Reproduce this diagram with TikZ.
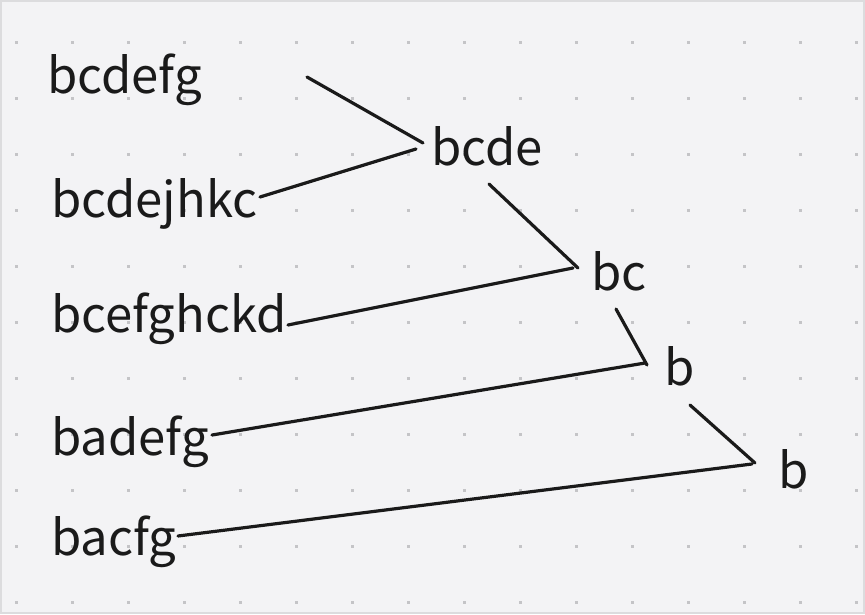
\documentclass[tikz,border=0pt]{standalone}
\usepackage{fontspec}
\setmainfont{Noto Sans CJK SC}
\definecolor{bgc}{HTML}{F3F3F5}
\definecolor{bordc}{HTML}{DCDCDE}
\definecolor{dotc}{HTML}{C4C4C7}
\definecolor{inkc}{HTML}{1A1A1A}
\tikzset{
  lbl/.style={anchor=base west, inner sep=0pt, text=inkc, font=\fontsize{49}{58}\selectfont},
  conn/.style={draw=inkc, line width=3.2pt, line cap=round},
}
\begin{document}
\begin{tikzpicture}[x=1pt,y=-1pt]
\useasboundingbox (0,0) rectangle (865,614);
\fill[bgc] (0,0) rectangle (865,614);
\draw[bordc, line width=2pt] (1,1) rectangle (864,613);
\foreach \i in {0,...,15} {
  \foreach \j in {0,...,10} {
    \fill[dotc] ({16+56*\i-1.5},{42+56*\j-1.5}) rectangle ++(3,3);
  }
}
% labels
\node[lbl] (t1) at (47,93) {bcdefg};
\node[lbl] (t2) at (51,217) {bcdejhkc};
\node[lbl] (t3) at (51,332) {bcefghckd};
\node[lbl] (t4) at (51,455) {badefg};
\node[lbl] (t5) at (51,555) {bacfg};
\node[lbl] (m1) at (431,165) {bcde};
\node[lbl] (m2) at (591,290) {bc};
\node[lbl] (m3) at (664,385) {b};
\node[lbl] (m4) at (778,488) {b};
% connector end points
\coordinate (a1) at (307,77);
\coordinate (j1) at (423,143);
\coordinate (a2) at (260,197);
\coordinate (k1) at (416,149);
\coordinate (a3) at (489,184);
\coordinate (j2) at (578,268);
\coordinate (a4) at (288,325);
\coordinate (k2) at (573,268);
\coordinate (a5) at (616,309);
\coordinate (j3) at (647,365);
\coordinate (a6) at (212,435);
\coordinate (k3) at (645,363);
\coordinate (a7) at (690,405);
\coordinate (j4) at (755,463);
\coordinate (a8) at (178,536);
\coordinate (k4) at (752,464);
\draw[conn] (a1) -- (j1);
\draw[conn] (a2) -- (k1);
\draw[conn] (a3) -- (j2);
\draw[conn] (a4) -- (k2);
\draw[conn] (a5) -- (j3);
\draw[conn] (a6) -- (k3);
\draw[conn] (a7) -- (j4);
\draw[conn] (a8) -- (k4);
\end{tikzpicture}
\end{document}
